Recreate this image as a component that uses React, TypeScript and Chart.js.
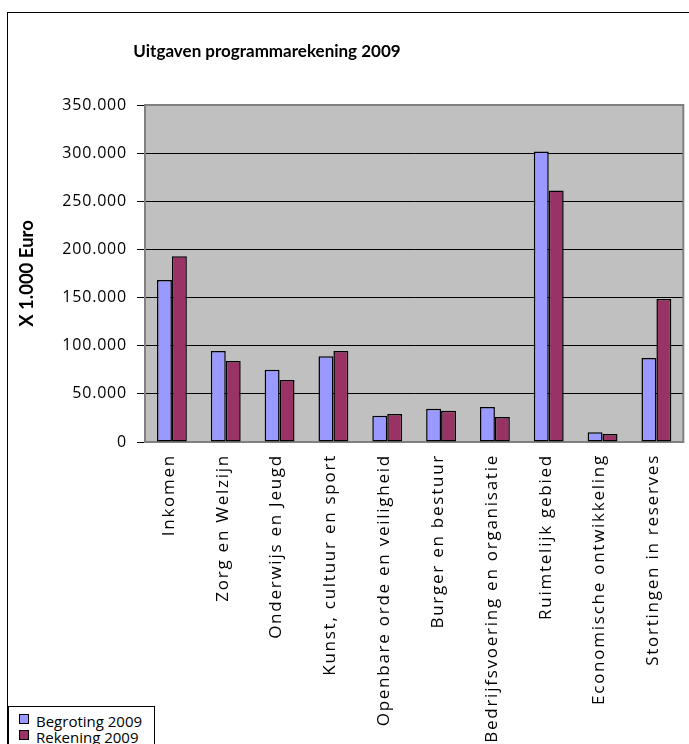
import React, { useEffect, useRef } from 'react';
import { Chart, registerables } from 'chart.js';

Chart.register(...registerables);

const categories = [
  'Inkomen',
  'Zorg en Welzijn',
  'Onderwijs en Jeugd',
  'Kunst, cultuur en sport',
  'Openbare orde en veiligheid',
  'Burger en bestuur',
  'Bedrijfsvoering en organisatie',
  'Ruimtelijk gebied',
  'Economische ontwikkeling',
  'Stortingen in reserves',
];
const begroting2009 = [168200, 94500, 75100, 89000, 27300, 34600, 36300, 301800, 10000, 87200];
const rekening2009 = [192800, 84100, 64400, 94500, 29000, 32500, 26000, 261300, 8300, 148500];
const yTicks = [0, 50000, 100000, 150000, 200000, 250000, 300000, 350000];
const seriesNames = ['Begroting 2009', 'Rekening 2009'];
const seriesColors = ['#9999FF', '#993366'];
const chartTitle = 'Uitgaven programmarekening 2009';
const yTitle = 'X 1.000 Euro';

const FONT = '"Open Sans", "Noto Sans", sans-serif';
const BOLD = 'Lato, "Open Sans", sans-serif';

const fmt = (v: number) => String(v).replace(/\B(?=(\d{3})+(?!\d))/g, '.');

const framePlugin = {
  id: 'framePlugin',
  beforeDraw(chart: any) {
    const { ctx, chartArea } = chart;
    const { left, top, right, bottom } = chartArea;
    ctx.save();
    ctx.fillStyle = '#C0C0C0';
    ctx.fillRect(left, top, right - left, bottom - top);
    ctx.restore();
    const patch = (scale: any, sp: string) => {
      if (!scale || scale.__patched) return;
      const origLabels = scale.drawLabels;
      scale.drawLabels = function (area: any) {
        const c = this.ctx;
        c.save();
        c.letterSpacing = sp;
        origLabels.call(this, area);
        c.restore();
      };
      scale.__patched = true;
    };
    patch(chart.scales.x, '1.75px');
    patch(chart.scales.y, '0.8px');
  },
  beforeDatasetsDraw(chart: any) {
    const { ctx, chartArea } = chart;
    const { left, top, right, bottom } = chartArea;
    ctx.save();
    ctx.strokeStyle = '#808080';
    ctx.lineWidth = 2;
    ctx.strokeRect(left, top, right - left, bottom - top);
    ctx.restore();
  },
  afterDraw(chart: any) {
    const { ctx } = chart;
    ctx.save();
    ctx.font = `bold 17px ${BOLD}`;
    ctx.fillStyle = '#000';
    ctx.textAlign = 'center';
    ctx.textBaseline = 'middle';
    ctx.fillText(chartTitle, 267, 52);
    ctx.restore();
  },
};

export default function App() {
  const ref = useRef<HTMLCanvasElement | null>(null);

  useEffect(() => {
    if (!ref.current) return;
    const chart = new Chart(ref.current, {
      type: 'bar',
      data: {
        labels: categories,
        datasets: [
          {
            label: seriesNames[0],
            data: begroting2009,
            backgroundColor: seriesColors[0],
            borderColor: '#000',
            borderWidth: 1.5,
            borderSkipped: false,
            categoryPercentage: 0.555,
            barPercentage: 1,
          },
          {
            label: seriesNames[1],
            data: rekening2009,
            backgroundColor: seriesColors[1],
            borderColor: '#000',
            borderWidth: 1.5,
            borderSkipped: false,
            categoryPercentage: 0.555,
            barPercentage: 1,
          },
        ],
      },
      options: {
        responsive: false,
        animation: false,
        maintainAspectRatio: false,
        layout: { padding: { left: 8, right: 4, top: 105, bottom: 0 } },
        plugins: {
          legend: { display: false },
          title: { display: false },
          tooltip: { enabled: false },
        },
        scales: {
          x: {
            grid: { display: false, drawTicks: false },
            border: { display: false },
            ticks: {
              autoSkip: false,
              minRotation: 90,
              maxRotation: 90,
              padding: 12,
              labelOffset: -3,
              color: '#000',
              font: { family: FONT, size: 17 },
            },
            afterFit(scale: any) {
              scale.height = 302;
            },
          },
          y: {
            min: 0,
            max: 350000,
            afterBuildTicks(scale: any) {
              scale.ticks = yTicks.map((v) => ({ value: v }));
            },
            grid: {
              color: '#000',
              lineWidth: 1,
              drawTicks: true,
              tickLength: 8,
              tickColor: '#000',
            },
            border: { display: false },
            ticks: {
              padding: 10,
              color: '#000',
              font: { family: FONT, size: 16 },
              callback: (v: any) => fmt(Number(v)),
            },
            title: {
              display: true,
              text: yTitle,
              color: '#000',
              font: { family: BOLD, size: 18.5, weight: 'bold' },
              padding: { top: 8, bottom: 0 },
            },
            afterFit(scale: any) {
              scale.width = 137;
            },
          },
        },
      },
      plugins: [framePlugin],
    } as any);
    return () => chart.destroy();
  }, []);

  const sq = (top: number, color: string) => (
    <div
      style={{
        position: 'absolute',
        left: 10,
        top,
        width: 8,
        height: 8,
        border: '1px solid #000',
        background: color,
      }}
    />
  );
  const txt = (top: number, text: string) => (
    <div
      style={{
        position: 'absolute',
        left: 27,
        top,
        font: `15px ${FONT}`,
        lineHeight: '16px',
        whiteSpace: 'nowrap',
        color: '#000',
      }}
    >
      {text}
    </div>
  );

  return (
    <div
      style={{
        position: 'fixed',
        left: 0,
        top: 0,
        width: 689,
        height: 744,
        overflow: 'hidden',
        background: '#fff',
      }}
    >
      <div
        style={{
          position: 'absolute',
          left: 7,
          top: 12,
          width: 720,
          height: 800,
          border: '1px solid #000',
        }}
      />
      <canvas
        ref={ref}
        width={689}
        height={744}
        style={{ position: 'absolute', left: 0, top: 0, width: 689, height: 744 }}
      />
      <div
        style={{
          position: 'absolute',
          left: 8,
          top: 706,
          width: 145,
          height: 60,
          border: '1px solid #000',
          background: '#fff',
        }}
      >
        {sq(7, seriesColors[0])}
        {txt(6, seriesNames[0])}
        {sq(23, seriesColors[1])}
        {txt(22, seriesNames[1])}
      </div>
    </div>
  );
}
